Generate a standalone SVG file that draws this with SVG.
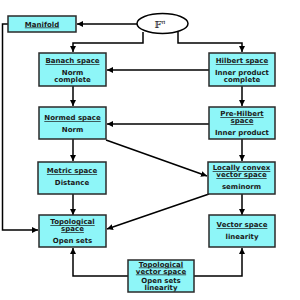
<svg xmlns="http://www.w3.org/2000/svg" width="300" height="300" viewBox="0 0 300 300">
<style>
.box{fill:#8ef6f8;stroke:#2a2a2a;stroke-width:1.5}
.t{font-family:"DejaVu Sans",Verdana,sans-serif;font-weight:bold;font-size:7px;fill:#1a1a1a;text-anchor:middle}
.h{text-decoration:underline}
.c{fill:none;stroke:#000;stroke-width:1.5}
</style>
<defs>
<marker id="a" viewBox="0 0 10 10" refX="10" refY="5" markerWidth="6" markerHeight="6" markerUnits="userSpaceOnUse" orient="auto">
<path d="M0,0 L10,5 L0,10 z" fill="#000"/>
</marker>
</defs>
<rect width="300" height="300" fill="#fff"/>
<g id="connectors">
<path class="c" d="M137,24 H77" marker-end="url(#a)"/>
<path class="c" d="M143,32 V43 H73 V52" marker-end="url(#a)"/>
<path class="c" d="M178,32 V43 H242 V52" marker-end="url(#a)"/>
<path class="c" d="M8,24 H2.5 V230 H38" marker-end="url(#a)"/>
<path class="c" d="M209,70 H107" marker-end="url(#a)"/>
<path class="c" d="M73,86 V106" marker-end="url(#a)"/>
<path class="c" d="M242,86 V106" marker-end="url(#a)"/>
<path class="c" d="M209,124 H107" marker-end="url(#a)"/>
<path class="c" d="M73,139 V161" marker-end="url(#a)"/>
<path class="c" d="M242,139 V161" marker-end="url(#a)"/>
<path class="c" d="M106,140 L207,176" marker-end="url(#a)"/>
<path class="c" d="M209,194 L107,229" marker-end="url(#a)"/>
<path class="c" d="M73,194 V215" marker-end="url(#a)"/>
<path class="c" d="M242,194 V215" marker-end="url(#a)"/>
<path class="c" d="M128,276 H73 V248" marker-end="url(#a)"/>
<path class="c" d="M194,276 H242 V248" marker-end="url(#a)"/>
</g>
<g id="Fn">
<ellipse cx="162.5" cy="23.5" rx="25.5" ry="10" fill="#fff" stroke="#000" stroke-width="1.5"/>
<text x="160" y="28" font-family="DejaVu Serif,serif" font-size="10" text-anchor="middle">𝔽<tspan font-size="6" dy="-4" font-style="italic">n</tspan></text>
</g>
<g id="manifold">
<rect class="box" x="8" y="16" width="68" height="16"/>
<text class="t h" x="42" y="26.5">Manifold</text>
</g>
<g id="banach">
<rect class="box" x="39" y="53" width="67" height="33"/>
<text class="t h" x="72.5" y="63">Banach space</text>
<text class="t" x="72.5" y="75">Norm</text>
<text class="t" x="72.5" y="82">complete</text>
</g>
<g id="hilbert">
<rect class="box" x="209" y="53" width="66" height="33"/>
<text class="t h" x="242" y="63">Hilbert space</text>
<text class="t" x="242" y="75">Inner product</text>
<text class="t" x="242" y="82">complete</text>
</g>
<g id="normed">
<rect class="box" x="39" y="107" width="67" height="32"/>
<text class="t h" x="72.5" y="120">Normed space</text>
<text class="t" x="72.5" y="132">Norm</text>
</g>
<g id="prehilbert">
<rect class="box" x="209" y="107" width="66" height="32"/>
<text class="t h" x="242" y="116">Pre-Hilbert</text>
<text class="t h" x="242" y="123">space</text>
<text class="t" x="242" y="135">Inner product</text>
</g>
<g id="metric">
<rect class="box" x="38" y="162" width="68" height="32"/>
<text class="t h" x="72" y="173">Metric space</text>
<text class="t" x="72" y="185">Distance</text>
</g>
<g id="locallyconvex">
<rect class="box" x="208" y="162" width="67" height="32"/>
<text class="t h" x="241.5" y="170">Locally convex</text>
<text class="t h" x="241.5" y="177">vector space</text>
<text class="t" x="241.5" y="189">seminorm</text>
</g>
<g id="topological">
<rect class="box" x="39" y="215" width="67" height="32"/>
<text class="t h" x="72.5" y="224">Topological</text>
<text class="t h" x="72.5" y="231">space</text>
<text class="t" x="72.5" y="243">Open sets</text>
</g>
<g id="vector">
<rect class="box" x="209" y="215" width="66" height="32"/>
<text class="t h" x="242" y="227">Vector space</text>
<text class="t" x="242" y="239">linearity</text>
</g>
<g id="tvs">
<rect class="box" x="128" y="260" width="66" height="32"/>
<text class="t h" x="161" y="266.5">Topological</text>
<text class="t h" x="161" y="273.5">vector space</text>
<text class="t" x="161" y="283">Open sets</text>
<text class="t" x="161" y="290">linearity</text>
</g>
</svg>
